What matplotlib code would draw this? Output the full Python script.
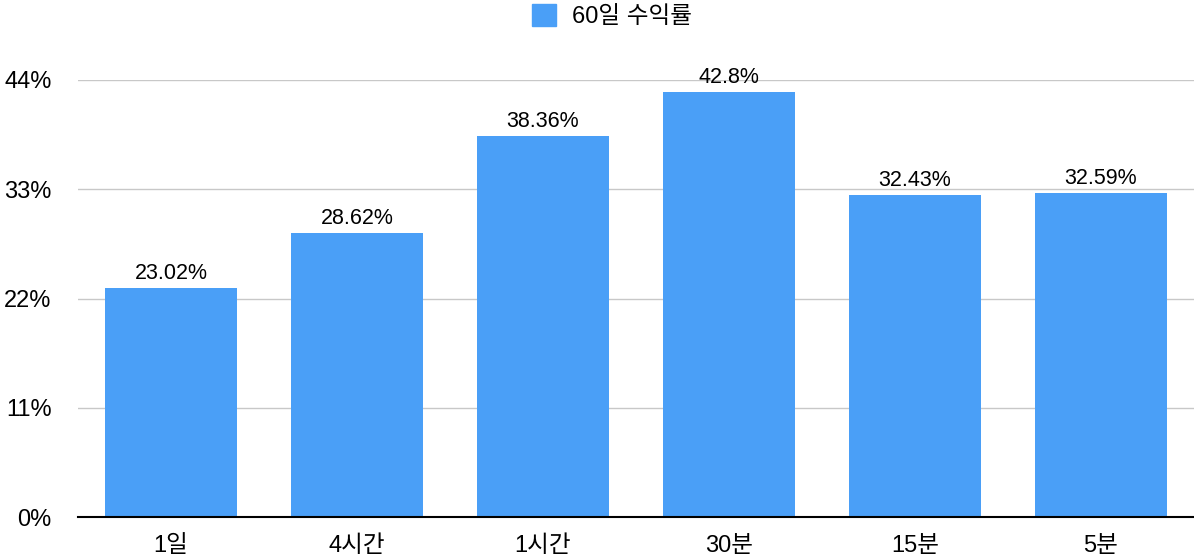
import numpy as np
import matplotlib.pyplot as plt
from matplotlib.patches import Patch

plt.rcParams['font.family'] = ['Liberation Sans', 'Noto Sans CJK KR', 'DejaVu Sans']

# data
categories = ["1일", "4시간", "1시간", "30분", "15분", "5분"]
returns = [23.02, 28.62, 38.36, 42.8, 32.43, 32.59]
yticks = [0, 11, 22, 33, 44]
series_name = "60일 수익률"

bar_color = "#4A9FF7"

fig = plt.figure(figsize=(11.94, 5.6), dpi=100)
ax = fig.add_axes([78 / 1194, 43 / 560, 1 - 78 / 1194, (517 - 80) / 560])

x = np.arange(len(categories))
bars = ax.bar(x, returns, width=0.715, color=bar_color, zorder=2)

for xi, v in zip(x, returns):
    ax.annotate(f"{v:g}%", (xi, v), xytext=(0, 3), textcoords="offset points",
                ha="center", va="bottom", fontsize=15.5, annotation_clip=False)

ax.set_xlim(-0.5, len(categories) - 0.5)
ax.set_ylim(0, 44)
ax.set_yticks(yticks)
ax.set_yticklabels([f"{t}%" for t in yticks], fontsize=17)
ax.set_xticks(x)
ax.set_xticklabels(categories, fontsize=17)
ax.tick_params(axis="both", length=0)
ax.tick_params(axis="y", pad=19)
ax.tick_params(axis="x", pad=13)

ax.grid(axis="y", color="#c8c8c8", linewidth=1, zorder=0)
for s in ["top", "right", "left"]:
    ax.spines[s].set_visible(False)
ax.spines["bottom"].set_color("black")
ax.spines["bottom"].set_linewidth(1.5)
ax.spines["bottom"].set_zorder(3)

fig.legend(handles=[Patch(color=bar_color, label=series_name)], loc="upper center",
           bbox_to_anchor=(612 / 1194, 1.03), frameon=False, fontsize=17,
           handlelength=1.0, handleheight=1.0, handletextpad=0.7)

fig.savefig("out.png", dpi=100)
